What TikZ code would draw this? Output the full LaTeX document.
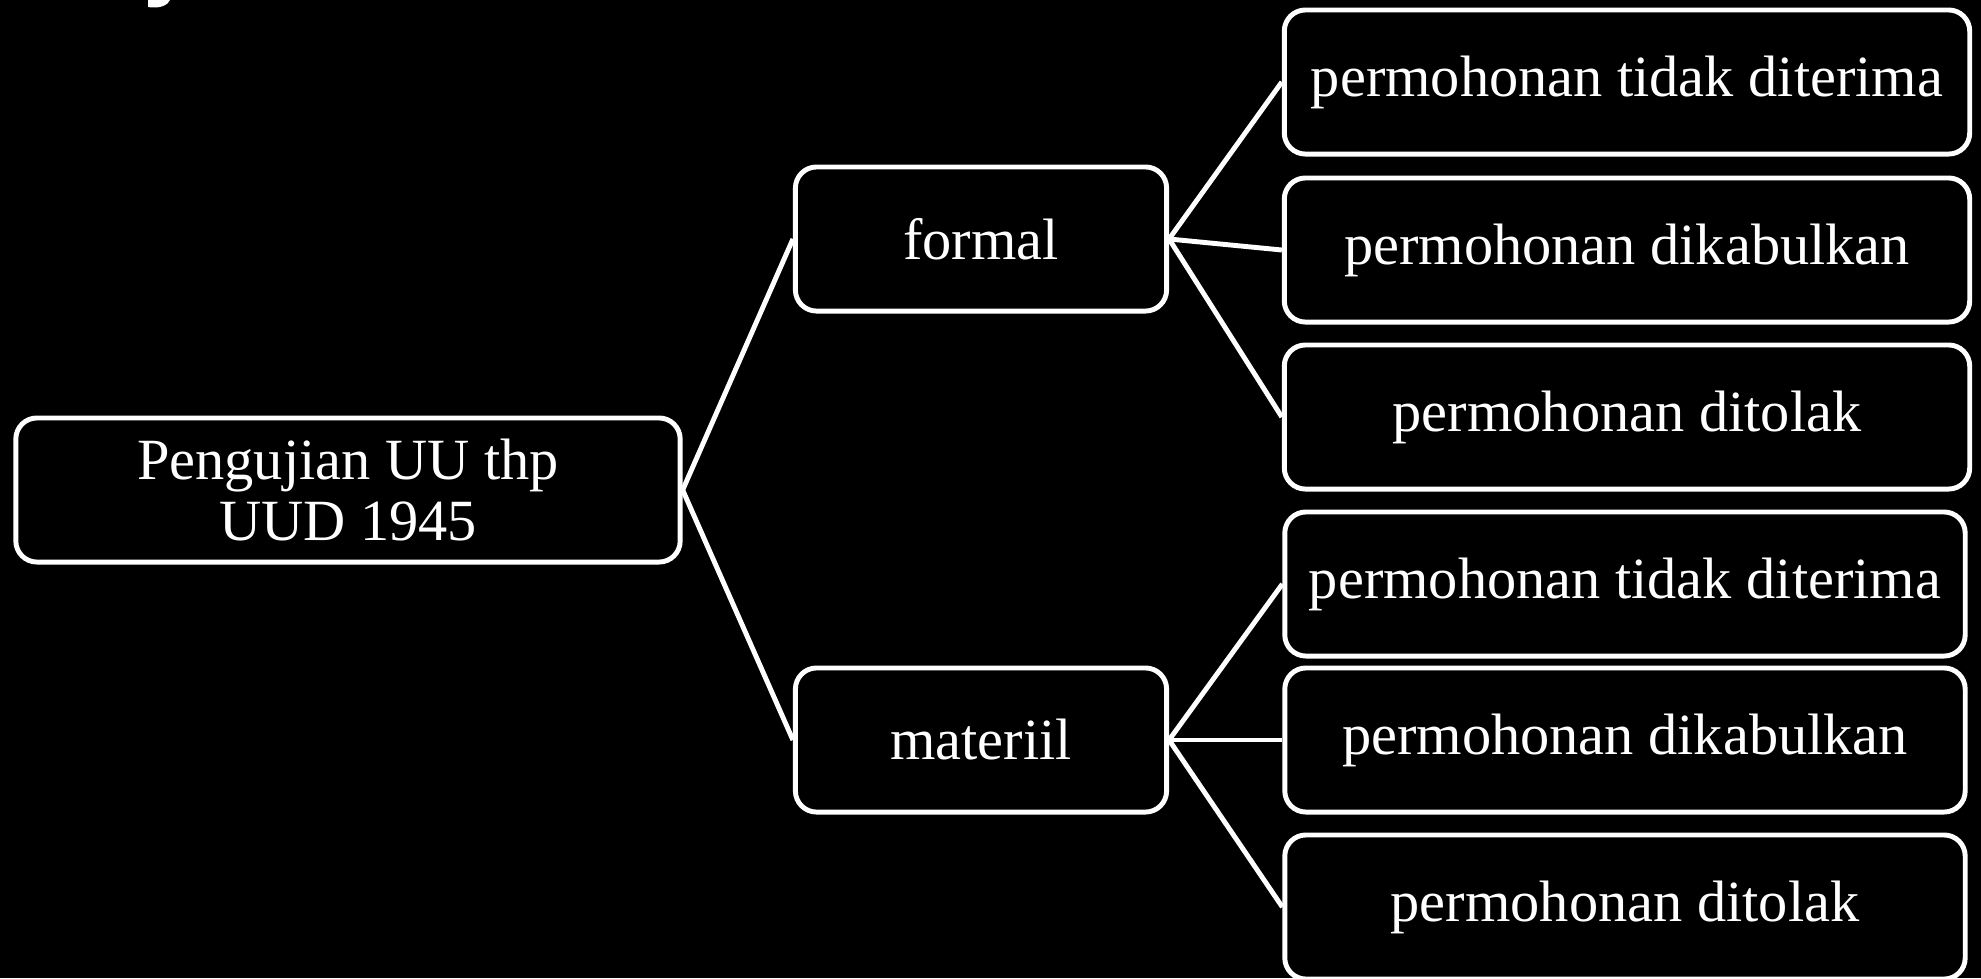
\documentclass[tikz,border=0pt]{standalone}
\usepackage{fontspec}
\setmainfont{Liberation Serif}
\usepackage{tikz}
\usetikzlibrary{positioning}

\begin{document}
\begin{tikzpicture}[
            x=0.01cm, y=-0.01cm,
            box/.style={draw=white, line width=1.4pt, rounded corners=6pt, fill=black, text=white,
                        minimum height=1.44cm, inner sep=0pt, align=center,
                        font=\fontsize{16.6pt}{17.6pt}\selectfont}, % white outlined box
            mid/.style={box, minimum width=3.71cm},
            leaf/.style={box, minimum width=6.85cm},
            link/.style={draw=white, line width=1.4pt}
            ]
        \fill[black] (0,0) rectangle (1981,978);
        \useasboundingbox (0,0) rectangle (1981,978);
        % piece of the cut off title at the top edge
        \fill[white] (148,0) -- (148,7) .. controls (160,9) and (168,5) .. (170,0) -- cycle;

        % root and its two branches
        \node[box, minimum width=6.64cm] (root) at (348,490) {Pengujian UU thp\\UUD 1945};
        \node[mid] (formal) at (981,239) {formal};
        \node[mid] (materiil) at (981,740) {materiil};

        % results of the formal test
        \node[leaf] (fa) at (1627,82) {permohonan tidak diterima};
        \node[leaf] (fb) at (1627,250) {permohonan dikabulkan};
        \node[leaf] (fc) at (1627,417) {permohonan ditolak};

        % results of the materiil test
        \node[leaf, minimum width=6.80cm] (ma) at (1625,584) {permohonan tidak diterima};
        \node[leaf, minimum width=6.80cm] (mb) at (1625,740) {permohonan dikabulkan};
        \node[leaf, minimum width=6.80cm] (mc) at (1625,907) {permohonan ditolak};

        \draw[link] (root.east) -- (formal.west);
        \draw[link] (root.east) -- (materiil.west);
        \foreach \r in {fa,fb,fc}
            \draw[link] (formal.east) -- (\r.west);
        \foreach \r in {ma,mb,mc}
            \draw[link] (materiil.east) -- (\r.west);

            \end{tikzpicture}
\end{document}
